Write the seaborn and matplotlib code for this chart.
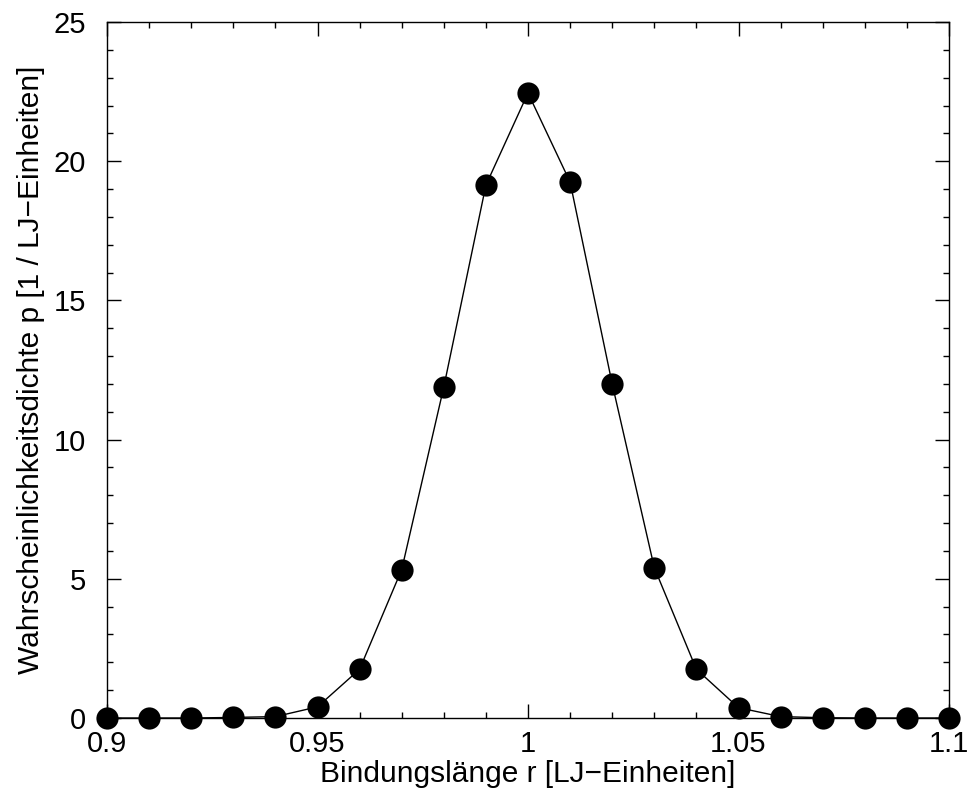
import matplotlib
matplotlib.use("Agg")
import matplotlib.pyplot as plt
from matplotlib.ticker import MultipleLocator
import seaborn as sns
import pandas as pd

# Bond-length distribution sampled in 0.01 steps
bond_length = [0.90, 0.91, 0.92, 0.93, 0.94, 0.95, 0.96, 0.97, 0.98, 0.99, 1.00,
               1.01, 1.02, 1.03, 1.04, 1.05, 1.06, 1.07, 1.08, 1.09, 1.10]
density = [0.0, 0.0, 0.0, 0.02, 0.05, 0.4, 1.75, 5.33, 11.89, 19.14, 22.45,
           19.25, 12.0, 5.4, 1.75, 0.37, 0.05, 0.01, 0.0, 0.0, 0.0]
x_ticks = [0.9, 0.95, 1.0, 1.05, 1.1]
x_tick_labels = ["0.9", "0.95", "1", "1.05", "1.1"]
y_ticks = [0, 5, 10, 15, 20, 25]

df = pd.DataFrame({"r": bond_length, "p": density})

sns.set_theme(style="ticks")
plt.rcParams["font.family"] = ["Liberation Sans", "DejaVu Sans"]
plt.rcParams["text.color"] = "black"
plt.rcParams["axes.labelcolor"] = "black"

fig = plt.figure(figsize=(9.72, 8.02), dpi=100)
ax = fig.add_axes([107 / 972, 1 - 718 / 802, (949 - 107) / 972, (718 - 22) / 802])

sns.lineplot(data=df, x="r", y="p", ax=ax, color="black", linewidth=1.0,
             marker="o", markersize=16, markeredgewidth=0, markerfacecolor="black",
             clip_on=False, zorder=5)

ax.set_xlim(0.9, 1.1)
ax.set_ylim(0, 25)
ax.set_xticks(x_ticks)
ax.set_xticklabels(x_tick_labels)
ax.set_yticks(y_ticks)
ax.xaxis.set_minor_locator(MultipleLocator(0.01))
ax.yaxis.set_minor_locator(MultipleLocator(1))

for s in ax.spines.values():
    s.set_visible(True)
    s.set_linewidth(1.0)
    s.set_color("black")

ax.tick_params(which="both", direction="in", top=True, right=True, colors="black",
               labelcolor="black", width=1.0, labelsize=21)
ax.tick_params(which="major", length=10)
ax.tick_params(which="minor", length=4)
ax.tick_params(axis="x", which="major", pad=9)
ax.tick_params(axis="y", which="major", pad=15)

ax.set_xlabel("Bindungslänge r [LJ\u2212Einheiten]", fontsize=21.5, labelpad=1)
ax.set_ylabel("Wahrscheinlichkeitsdichte p [1 / LJ\u2212Einheiten]", fontsize=21.5, labelpad=6)

fig.savefig("out.png", dpi=100, facecolor="white")
